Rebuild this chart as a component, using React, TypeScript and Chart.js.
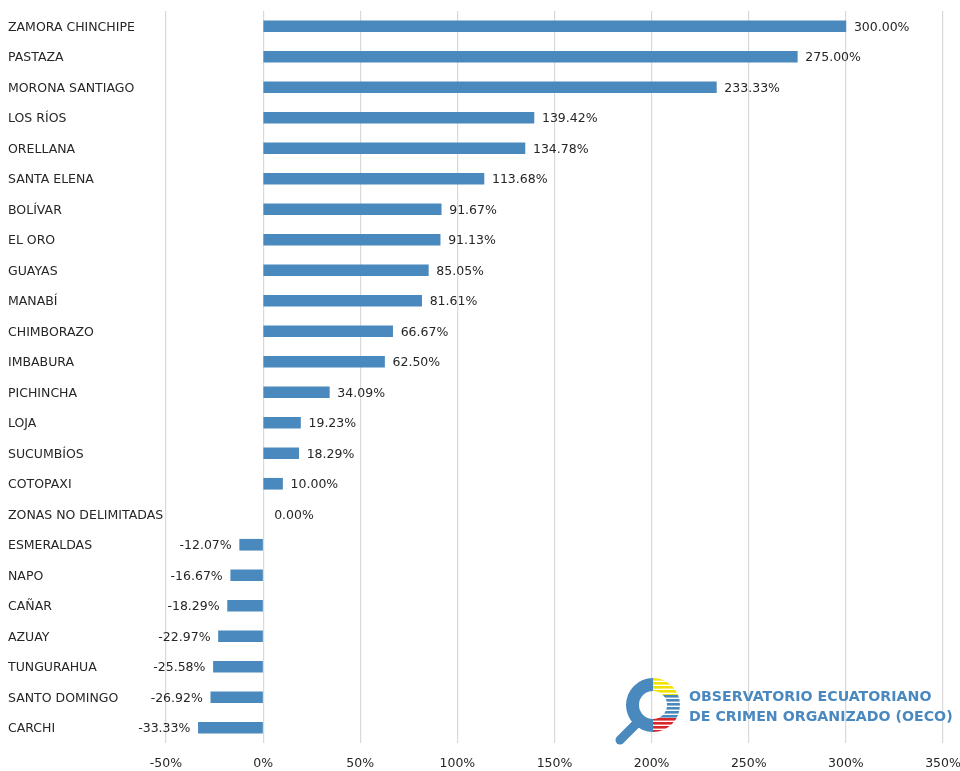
import React, { useEffect, useRef } from "react";
import { Chart, registerables } from "chart.js";

Chart.register(...registerables);

const provinces: string[] = [
  "ZAMORA CHINCHIPE", "PASTAZA", "MORONA SANTIAGO", "LOS RÍOS", "ORELLANA",
  "SANTA ELENA", "BOLÍVAR", "EL ORO", "GUAYAS", "MANABÍ", "CHIMBORAZO",
  "IMBABURA", "PICHINCHA", "LOJA", "SUCUMBÍOS", "COTOPAXI",
  "ZONAS NO DELIMITADAS", "ESMERALDAS", "NAPO", "CAÑAR", "AZUAY",
  "TUNGURAHUA", "SANTO DOMINGO", "CARCHI",
];

const changePct: number[] = [
  300.0, 275.0, 233.33, 139.42, 134.78, 113.68, 91.67, 91.13, 85.05, 81.61,
  66.67, 62.5, 34.09, 19.23, 18.29, 10.0, 0.0, -12.07, -16.67, -18.29,
  -22.97, -25.58, -26.92, -33.33,
];

const xMin = -50;
const xMax = 350;
const xStep = 50;

const BAR_COLOR = "#4a89be";
const TEXT_COLOR = "#262626";
const FONT_FAMILY = "'DejaVu Sans', Verdana, sans-serif";
const FONT_SIZE = 12.5;

const valueLabels = {
  id: "valueLabels",
  afterDatasetsDraw(chart: any) {
    const ctx = chart.ctx;
    const meta = chart.getDatasetMeta(0);
    ctx.save();
    ctx.font = `${FONT_SIZE}px ${FONT_FAMILY}`;
    ctx.fillStyle = TEXT_COLOR;
    ctx.textBaseline = "middle";
    meta.data.forEach((bar: any, i: number) => {
      const v = changePct[i];
      const txt = v.toFixed(2) + "%";
      if (v < 0) {
        ctx.textAlign = "right";
        ctx.fillText(txt, bar.x - 8, bar.y + 1);
      } else {
        ctx.textAlign = "left";
        ctx.fillText(txt, bar.x + (v === 0 ? 11 : 8), bar.y + 1);
      }
    });
    ctx.restore();
  },
};

function Logo() {
  const cx = 653;
  const cy = 705;
  const ro = 27;
  const ri = 14;
  const stripes: React.ReactNode[] = [];
  const bands = [
    { from: cy - ro, to: 695, color: "#f2e200" },
    { from: 695, to: 718, color: "#4a89be" },
    { from: 718, to: cy + ro, color: "#d9262b" },
  ];
  bands.forEach((b, bi) => {
    for (let y = b.from; y < b.to; y += 4) {
      stripes.push(
        <rect key={`${bi}-${y}`} x={cx} y={y} width={ro + 1} height={Math.min(2.6, b.to - y)} fill={b.color} />
      );
    }
  });
  return (
    <>
      <svg
        width={960}
        height={771}
        style={{ position: "absolute", left: 0, top: 0, pointerEvents: "none" }}
      >
        <defs>
          <clipPath id="ringRight">
            <path
              d={`M ${cx} ${cy - ro} A ${ro} ${ro} 0 0 1 ${cx} ${cy + ro} L ${cx} ${cy + ri} A ${ri} ${ri} 0 0 0 ${cx} ${cy - ri} Z`}
            />
          </clipPath>
        </defs>
        <line x1={636} y1={724} x2={620} y2={740} stroke="#4a89be" strokeWidth={9} strokeLinecap="round" />
        <path
          d={`M ${cx} ${cy - ro} A ${ro} ${ro} 0 0 0 ${cx} ${cy + ro} L ${cx} ${cy + ri} A ${ri} ${ri} 0 0 1 ${cx} ${cy - ri} Z`}
          fill="#4a89be"
        />
        <g clipPath="url(#ringRight)">
          <rect x={cx} y={cy - ro} width={ro} height={2 * ro} fill="#ffffff" />
          {stripes}
        </g>
      </svg>
      <div
        style={{
          position: "absolute",
          left: 689,
          top: 686,
          fontFamily: FONT_FAMILY,
          fontWeight: "bold",
          fontSize: 14.2,
          lineHeight: "20px",
          color: "#4a89c0",
          whiteSpace: "nowrap",
        }}
      >
        OBSERVATORIO ECUATORIANO
        <br />
        DE CRIMEN ORGANIZADO (OECO)
      </div>
    </>
  );
}

export default function App() {
  const canvasRef = useRef<HTMLCanvasElement | null>(null);

  useEffect(() => {
    if (!canvasRef.current) return;
    const chart = new Chart(canvasRef.current, {
      type: "bar",
      data: {
        labels: provinces,
        datasets: [
          {
            data: changePct,
            backgroundColor: changePct.map((v) => (v === 0 ? "rgba(0,0,0,0)" : BAR_COLOR)),
            barThickness: 11,
            borderWidth: 0,
          },
        ],
      },
      plugins: [valueLabels],
      options: {
        indexAxis: "y",
        animation: false,
        responsive: false,
        maintainAspectRatio: false,
        layout: { padding: { left: 8, top: 11, right: 17, bottom: 0 } },
        plugins: {
          legend: { display: false },
          tooltip: { enabled: false },
          title: { display: false },
        },
        scales: {
          x: {
            type: "linear",
            min: xMin,
            max: xMax,
            position: "bottom",
            grid: { color: "#d9d9d9", lineWidth: 1.2, drawTicks: false },
            border: { display: false },
            ticks: {
              stepSize: xStep,
              padding: 13,
              color: TEXT_COLOR,
              font: { family: FONT_FAMILY, size: FONT_SIZE },
              callback: (v: any) => `${v}%`,
            },
            afterFit: (scale: any) => {
              scale.height = 28;
              scale.paddingLeft = 0;
              scale.paddingRight = 0;
            },
          },
          y: {
            type: "category",
            position: "left",
            grid: { display: false, drawTicks: false },
            border: { display: false },
            ticks: {
              crossAlign: "far",
              padding: 0,
              labelOffset: 1,
              autoSkip: false,
              color: TEXT_COLOR,
              font: { family: FONT_FAMILY, size: FONT_SIZE },
            },
            afterFit: (scale: any) => {
              scale.width = 158;
              scale.paddingTop = 0;
              scale.paddingBottom = 0;
            },
          },
        },
      },
    });
    return () => chart.destroy();
  }, []);

  return (
    <div style={{ position: "fixed", left: 0, top: 0, width: 960, height: 771, background: "#ffffff" }}>
      <canvas ref={canvasRef} width={960} height={771} style={{ position: "absolute", left: 0, top: 0 }} />
      <Logo />
    </div>
  );
}
